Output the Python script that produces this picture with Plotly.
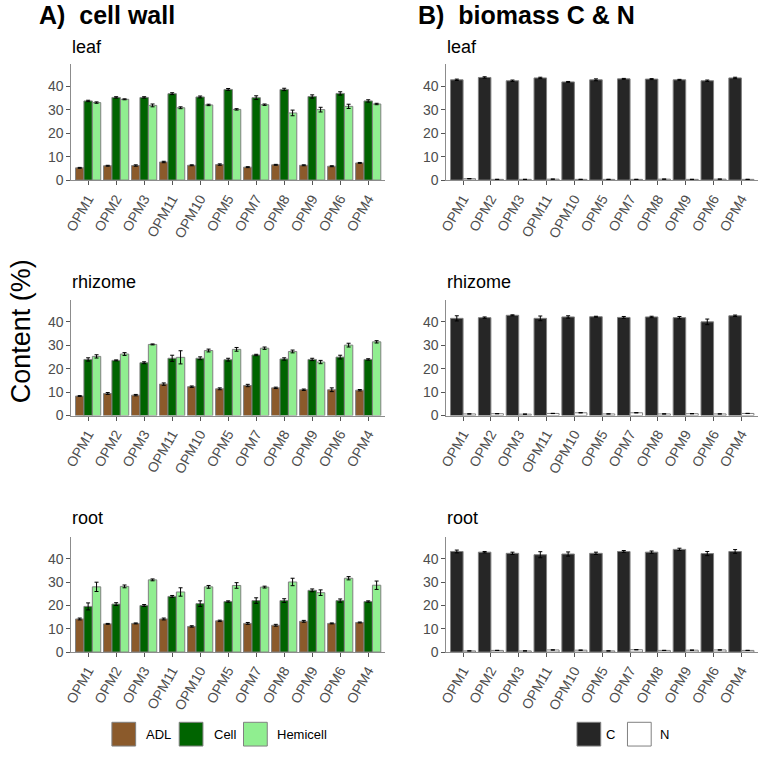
import plotly.graph_objects as go

categories = ["OPM1", "OPM2", "OPM3", "OPM11", "OPM10", "OPM5", "OPM7", "OPM8", "OPM9", "OPM6", "OPM4"]
tissues = ["leaf", "rhizome", "root"]

# cell wall (%)
adl_leaf = [5.2, 6.1, 6.2, 7.7, 6.3, 6.6, 5.5, 6.5, 6.3, 5.9, 7.3]
cell_leaf = [33.7, 35.2, 35.2, 36.8, 35.4, 38.6, 35.1, 38.6, 35.6, 36.9, 33.7]
hemi_leaf = [33.0, 34.4, 31.8, 30.8, 32.0, 30.1, 32.1, 28.6, 30.0, 31.4, 32.4]
adl_leaf_se = [0.2, 0.2, 0.3, 0.3, 0.2, 0.3, 0.2, 0.2, 0.2, 0.2, 0.2]
cell_leaf_se = [0.3, 0.3, 0.3, 0.4, 0.4, 0.4, 0.8, 0.5, 0.7, 0.7, 0.5]
hemi_leaf_se = [0.3, 0.2, 0.6, 0.4, 0.3, 0.3, 0.3, 1.2, 1.0, 0.9, 0.3]

adl_rhiz = [8.3, 9.4, 8.7, 13.4, 12.3, 11.4, 12.8, 11.8, 11.0, 11.0, 10.8]
cell_rhiz = [23.9, 23.5, 22.5, 24.4, 24.4, 23.8, 25.8, 24.1, 23.9, 24.9, 23.9]
hemi_rhiz = [25.2, 26.2, 30.3, 24.8, 27.7, 28.2, 28.7, 27.3, 22.8, 30.0, 31.4]
adl_rhiz_se = [0.2, 0.4, 0.3, 0.5, 0.3, 0.4, 0.5, 0.3, 0.3, 0.8, 0.3]
cell_rhiz_se = [0.7, 0.2, 0.4, 1.3, 0.6, 0.6, 0.3, 0.5, 0.5, 0.8, 0.3]
hemi_rhiz_se = [0.7, 0.6, 0.2, 2.8, 0.6, 0.8, 0.5, 0.6, 0.7, 0.8, 0.5]

adl_root = [14.2, 12.1, 12.3, 14.2, 11.0, 13.4, 12.3, 11.5, 13.2, 12.3, 12.7]
cell_root = [19.6, 20.6, 20.0, 23.9, 20.8, 21.7, 22.1, 22.1, 26.5, 22.1, 21.7]
hemi_root = [28.0, 28.2, 31.0, 25.8, 28.0, 28.6, 27.9, 30.1, 25.5, 31.7, 28.7]
adl_root_se = [0.4, 0.2, 0.2, 0.4, 0.3, 0.3, 0.4, 0.4, 0.4, 0.2, 0.2]
cell_root_se = [1.5, 0.6, 0.4, 0.4, 1.2, 0.3, 1.2, 0.8, 0.6, 0.7, 0.3]
hemi_root_se = [2.0, 0.6, 0.4, 1.8, 0.6, 1.2, 0.4, 1.6, 1.2, 0.7, 1.8]

# biomass C & N (%)
c_leaf = [42.7, 43.7, 42.3, 43.5, 41.8, 42.7, 43.1, 43.0, 42.7, 42.3, 43.5]
n_leaf = [0.6, 0.3, 0.3, 0.4, 0.3, 0.3, 0.3, 0.4, 0.3, 0.4, 0.3]
c_leaf_se = [0.3, 0.3, 0.3, 0.3, 0.2, 0.4, 0.2, 0.2, 0.2, 0.3, 0.3]
n_leaf_se = [0.05, 0.03, 0.03, 0.03, 0.03, 0.03, 0.03, 0.03, 0.03, 0.03, 0.03]

c_rhiz = [41.4, 41.7, 42.7, 41.4, 42.0, 42.1, 41.8, 42.0, 41.7, 39.9, 42.5]
n_rhiz = [0.7, 0.8, 0.6, 0.9, 1.2, 0.7, 1.2, 0.7, 0.8, 0.7, 0.9]
c_rhiz_se = [1.1, 0.3, 0.2, 1.0, 0.5, 0.2, 0.4, 0.3, 0.5, 1.2, 0.3]
n_rhiz_se = [0.05, 0.05, 0.05, 0.05, 0.05, 0.05, 0.05, 0.05, 0.05, 0.05, 0.05]

c_root = [43.2, 42.9, 42.4, 41.8, 42.1, 42.4, 43.2, 42.9, 44.1, 42.3, 43.2]
n_root = [0.5, 0.7, 0.5, 0.9, 0.8, 0.5, 1.0, 0.7, 0.8, 0.9, 0.7]
c_root_se = [0.6, 0.3, 0.5, 1.3, 0.9, 0.5, 0.4, 0.5, 0.5, 0.9, 0.8]
n_root_se = [0.05, 0.05, 0.05, 0.05, 0.05, 0.05, 0.05, 0.05, 0.05, 0.05, 0.05]

wall_series = ["ADL", "Cell", "Hemicell"]
cn_series = ["C", "N"]
wall_colors = ["#8B5A2B", "#006400", "#90EE90"]
cn_colors = ["#262626", "#FFFFFF"]

wall_data = [
    [(adl_leaf, adl_leaf_se), (cell_leaf, cell_leaf_se), (hemi_leaf, hemi_leaf_se)],
    [(adl_rhiz, adl_rhiz_se), (cell_rhiz, cell_rhiz_se), (hemi_rhiz, hemi_rhiz_se)],
    [(adl_root, adl_root_se), (cell_root, cell_root_se), (hemi_root, hemi_root_se)],
]
cn_data = [
    [(c_leaf, c_leaf_se), (n_leaf, n_leaf_se)],
    [(c_rhiz, c_rhiz_se), (n_rhiz, n_rhiz_se)],
    [(c_root, c_root_se), (n_root, n_root_se)],
]

W, H = 765, 758
FONT = "Liberation Sans, Arial, sans-serif"
NB = "\u00a0"

def px_x(v):
    return v / W

def px_y(v):
    return 1 - v / H

col_x = [(64, 381), (443, 758)]
row_y = [(65, 182), (303, 420), (543, 659)]

fig = go.Figure()
layout = {}
ax_i = 0
for c, (series, colors, datas) in enumerate([(wall_series, wall_colors, wall_data),
                                                (cn_series, cn_colors, cn_data)]):
    for r in range(3):
        ax_i += 1
        xa = "x" if ax_i == 1 else f"x{ax_i}"
        ya = "y" if ax_i == 1 else f"y{ax_i}"
        for s, name in enumerate(series):
            vals, se = datas[r][s]
            fig.add_trace(go.Bar(
                x=categories, y=vals, name=name, xaxis=xa, yaxis=ya,
                marker=dict(color=colors[s], line=dict(color="#808080", width=1)),
                error_y=dict(type="data", array=se, visible=True, color="black",
                             thickness=1, width=2),
                showlegend=False,
            ))
        xkey = "xaxis" if ax_i == 1 else f"xaxis{ax_i}"
        ykey = "yaxis" if ax_i == 1 else f"yaxis{ax_i}"
        layout[xkey] = dict(
            domain=[px_x(col_x[c][0]), px_x(col_x[c][1])],
            anchor=ya, type="category", range=[-0.6, 10.6],
            showline=True, linecolor="#8c8c8c", linewidth=1,
            ticks="outside", ticklen=4, tickcolor="#555555",
            tickangle=-60, tickfont=dict(family=FONT, size=14, color="#4d4d4d"),
            showgrid=False, zeroline=False, fixedrange=True,
        )
        layout[ykey] = dict(
            domain=[px_y(row_y[r][1]), px_y(row_y[r][0])],
            anchor=xa, range=[0, 49.3], tickvals=[0, 10, 20, 30, 40],
            showline=True, linecolor="#8c8c8c", linewidth=1,
            ticks="outside", ticklen=4, tickcolor="#555555",
            tickfont=dict(family=FONT, size=14, color="#4d4d4d"),
            showgrid=False, zeroline=False, fixedrange=True,
        )

annotations = [
    dict(text=f"<b>A){NB}{NB}cell wall</b>", x=px_x(29), y=px_y(15), xanchor="left", yanchor="middle",
         font=dict(family=FONT, size=25, color="black")),
    dict(text=f"<b>B){NB}{NB}biomass C & N</b>", x=px_x(412), y=px_y(15), xanchor="left", yanchor="middle",
         font=dict(family=FONT, size=25, color="black")),
    dict(text="Content (%)", x=px_x(14), y=px_y(335), xanchor="center", yanchor="middle",
         textangle=-90, font=dict(family=FONT, size=27, color="black")),
]
sub_center = [47, 285, 524]
for c in range(2):
    for r, t in enumerate(tissues):
        annotations.append(dict(text=t, x=px_x(col_x[c][0] - 1), y=px_y(sub_center[r]),
                                xanchor="left", yanchor="middle",
                                font=dict(family=FONT, size=18, color="black")))

# legends drawn as key boxes + labels
shapes = []
legend_items = [
    ("ADL", wall_colors[0], 105, 137),
    ("Cell", wall_colors[1], 173, 206),
    ("Hemicell", wall_colors[2], 238, 270),
    ("C", cn_colors[0], 575, 602),
    ("N", cn_colors[1], 626, 657),
]
for label, color, bx, tx in legend_items:
    shapes.append(dict(type="rect", xref="paper", yref="paper",
                       x0=px_x(bx), x1=px_x(bx + 24), y0=px_y(754), y1=px_y(730),
                       fillcolor=color, line=dict(color="#808080", width=1)))
    annotations.append(dict(text=label, x=px_x(tx), y=px_y(742), xanchor="left", yanchor="middle",
                            font=dict(family=FONT, size=13, color="black")))

for a in annotations:
    a.update(xref="paper", yref="paper", showarrow=False)

fig.update_layout(
    width=W, height=H, margin=dict(l=0, r=0, t=0, b=0),
    paper_bgcolor="white", plot_bgcolor="white",
    barmode="group", bargap=0.1, bargroupgap=0,
    annotations=annotations, shapes=shapes, showlegend=False,
    **layout,
)

fig.write_html("out.html")
